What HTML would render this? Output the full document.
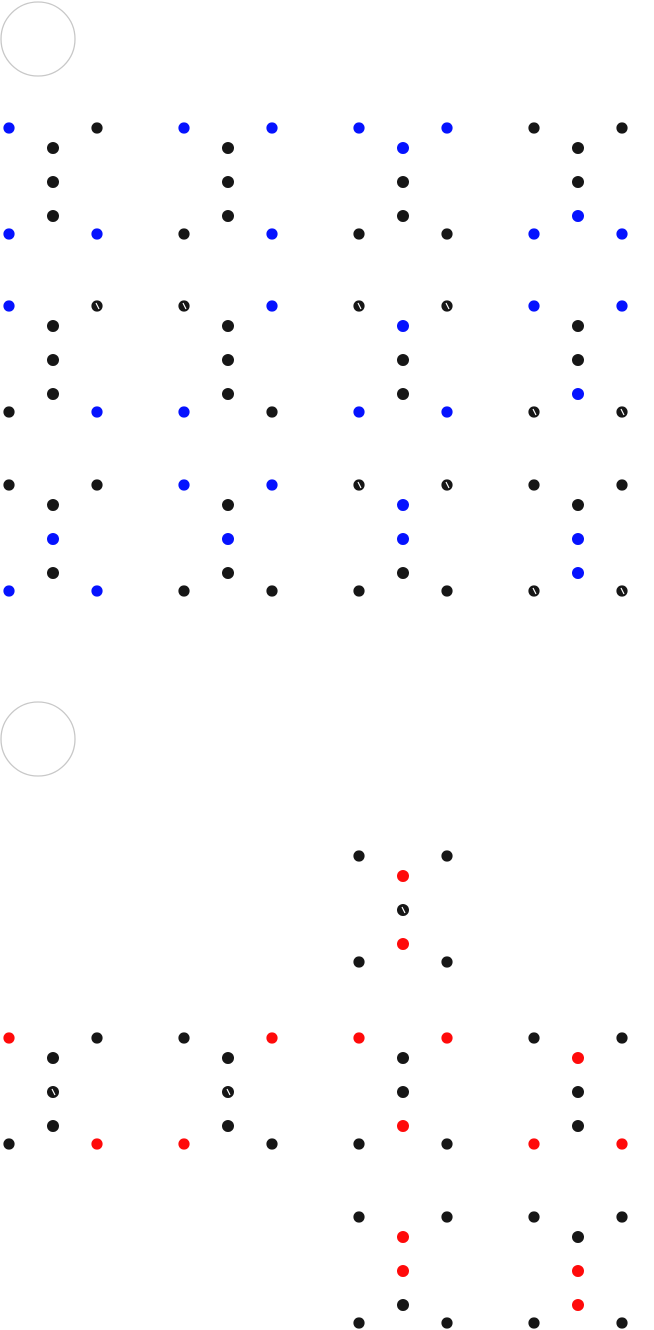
<!DOCTYPE html>
<html><head><meta charset="utf-8"><style>
html,body{margin:0;padding:0;background:#fff;width:654px;height:1330px;overflow:hidden}
svg{display:block}
</style></head><body>
<svg id="chart" width="654" height="1330" viewBox="0 0 654 1330" xmlns="http://www.w3.org/2000/svg">
<circle cx="38" cy="39" r="37" fill="none" stroke="#c8c8c8" stroke-width="1.3"/>
<circle cx="38" cy="739" r="37" fill="none" stroke="#c8c8c8" stroke-width="1.3"/>
</svg>
<script>
// group layouts: [column index, row base y]
const groupCols = [0,1,2,3, 0,1,2,3, 0,1,2,3, 2, 0,1,2,3, 2,3];
const groupRows = [128,128,128,128, 306,306,306,306, 485,485,485,485, 856, 1038,1038,1038,1038, 1217,1217];
// colors per dot: TL, TR, M1, M2, M3, BL, BR ; B=blue R=red K=black, m=marked
const groupColors = [
 "B K K K K B B","B B K K K K B","B B B K K K K","K K K K B B B",
 "B Km K K K K B","Km B K K K B K","Km Km B K K B B","B B K K B Km Km",
 "K K K B K B B","B B K B K K K","Km Km B B K K K","K K K B B Km Km",
 "K K R Km R K K",
 "R K K Km K K R","K R K Km K R K","R R K K R K K","K K R K K R R",
 "K K R R K K K","K K K R R K K"
];
const svg=document.getElementById('chart');
const NS='http://www.w3.org/2000/svg';
const colX=c=>9+c*175;
const fills={B:'#0512ff',R:'#ff0a0a',K:'#161616'};
const dx=[0,88,44,44,44,0,88], dy=[0,0,20,54,88,106,106];
const names=['top-left','top-right','middle-1','middle-2','middle-3','bottom-left','bottom-right'];
groupCols.forEach((c,g)=>{
  const gr=document.createElementNS(NS,'g');
  
  
  svg.appendChild(gr);
  const cols=groupColors[g].split(' ');
  cols.forEach((code,i)=>{
    const x=colX(c)+dx[i], y=groupRows[g]+dy[i];
    const ci=document.createElementNS(NS,'circle');
    ci.setAttribute('cx',x);ci.setAttribute('cy',y);
    ci.setAttribute('r',(i>=2&&i<=4)?6:5.6);
    ci.setAttribute('fill',fills[code[0]]);
    
    
    gr.appendChild(ci);
    if(code.length>1){
      const l=document.createElementNS(NS,'line');
      l.setAttribute('x1',x-1);l.setAttribute('y1',y-3);
      l.setAttribute('x2',x+2);l.setAttribute('y2',y+3);
      l.setAttribute('stroke','#fff');l.setAttribute('stroke-width','1.2');
      
      
      gr.appendChild(l);
    }
  });
});
</script>
</body></html>
